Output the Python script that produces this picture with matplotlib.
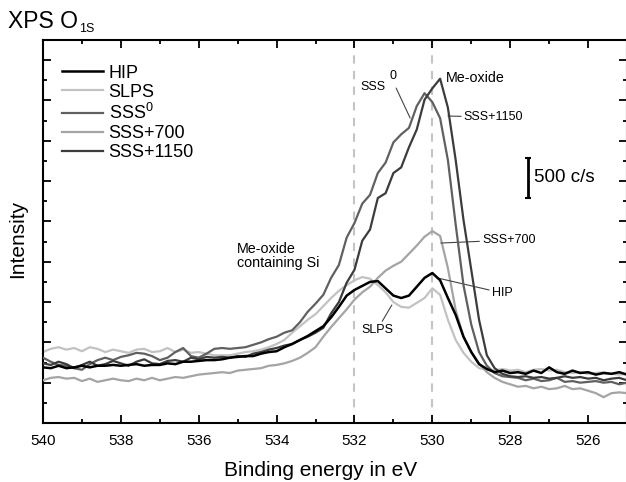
import numpy as np
import matplotlib
matplotlib.use('Agg')
import matplotlib.pyplot as plt
from matplotlib.ticker import MultipleLocator, NullFormatter

plt.rcParams['font.family'] = ['Liberation Sans', 'DejaVu Sans']
plt.rcParams['mathtext.fontset'] = 'custom'
plt.rcParams['mathtext.rm'] = 'Liberation Sans'
plt.rcParams['mathtext.it'] = 'Liberation Sans:italic'
plt.rcParams['mathtext.bf'] = 'Liberation Sans:bold'

# Binding energy grid (eV), 540 -> 525 in 0.2 eV steps
binding_energy = np.linspace(540.0, 525.0, 76)

series_names = ["HIP", "SLPS", "SSS$^{0}$", "SSS+700", "SSS+1150"]

hip = [690, 680, 710, 680, 690, 710, 690, 710, 710, 720,
       710, 720, 730, 710, 720, 720, 740, 730, 760, 760,
       770, 780, 780, 790, 810, 820, 830, 830, 860, 880,
       890, 940, 980, 1030, 1080, 1140, 1200, 1310, 1440, 1580,
       1650, 1700, 1750, 1760, 1670, 1580, 1550, 1580, 1690, 1800,
       1860, 1770, 1550, 1340, 1070, 880, 730, 670, 630, 650,
       620, 630, 610, 650, 620, 690, 630, 610, 650, 620,
       630, 600, 620, 610, 630, 600]

slps = [880, 920, 940, 910, 930, 890, 940, 920, 880, 910,
        890, 870, 910, 920, 880, 890, 930, 880, 910, 870,
        880, 860, 840, 840, 840, 860, 880, 890, 910, 940,
        980, 1030, 1120, 1200, 1280, 1350, 1450, 1550, 1640, 1710,
        1770, 1810, 1790, 1710, 1620, 1500, 1440, 1430, 1490, 1550,
        1670, 1590, 1280, 1030, 870, 760, 680, 660, 650, 670,
        650, 660, 630, 660, 670, 650, 660, 630, 620, 630,
        610, 620, 630, 610, 600, 610]

sss0 = [810, 760, 720, 710, 680, 660, 730, 780, 810, 780,
        820, 840, 870, 860, 830, 780, 810, 880, 930, 830,
        810, 860, 920, 930, 920, 930, 940, 970, 1000, 1040,
        1070, 1120, 1150, 1250, 1380, 1480, 1590, 1800, 1960, 2300,
        2480, 2720, 2830, 3100, 3230, 3480, 3580, 3660, 3930, 4090,
        3980, 3780, 3260, 2460, 1710, 1220, 880, 710, 620, 580,
        570, 560, 530, 550, 520, 530, 560, 510, 520, 500,
        510, 520, 500, 510, 480, 500]

sss700 = [530, 560, 570, 550, 560, 520, 550, 510, 530, 550,
          530, 520, 550, 530, 560, 530, 550, 570, 560, 580,
          600, 610, 620, 630, 620, 650, 660, 670, 680, 710,
          720, 740, 770, 810, 870, 940, 1070, 1190, 1300, 1410,
          1530, 1620, 1690, 1800, 1890, 1950, 2000, 2100, 2200, 2310,
          2380, 2320, 1920, 1400, 1070, 880, 740, 630, 560, 510,
          480, 450, 460, 430, 450, 420, 430, 460, 420, 430,
          400, 370, 320, 370, 380, 370]

sss1150 = [740, 720, 760, 730, 680, 720, 760, 710, 730, 770,
           740, 710, 760, 790, 740, 730, 770, 780, 760, 810,
           790, 820, 810, 820, 810, 830, 820, 860, 880, 910,
           930, 960, 980, 1030, 1070, 1120, 1180, 1360, 1500, 1740,
           1900, 2260, 2400, 2790, 2850, 3100, 3170, 3420, 3640, 4010,
           4150, 4270, 3910, 3260, 2520, 1900, 1280, 840, 680, 610,
           580, 570, 580, 560, 570, 550, 560, 580, 560, 570,
           550, 560, 530, 550, 560, 530]

reference_lines = [532.0, 530.0]
scale_bar_value = 500  # c/s

fig = plt.figure(figsize=(6.26, 4.82), dpi=100)
ax = fig.add_axes([43/626, 1-423/482, 584/626, 383/482])

for xv in reference_lines:
    ax.axvline(xv, color='#c4c4c4', ls=(0, (4, 3.5)), lw=1.5, zorder=1)

colors = ['#000000', '#c2c2c2', '#606060', '#a4a4a4', '#3c3c3c']
data = [hip, slps, sss0, sss700, sss1150]
widths = [1.8, 1.6, 1.6, 1.6, 1.6]
zorders = [6, 2, 4, 3, 5]
handles = []
for name, y, c, lw, z in zip(series_names, data, colors, widths, zorders):
    h, = ax.plot(binding_energy, y, color=c, lw=lw, zorder=z, label=name)
    handles.append(h)

ax.set_xlim(540, 525)
ax.set_ylim(0, 4750)
ax.xaxis.set_major_locator(MultipleLocator(2))
ax.xaxis.set_minor_locator(MultipleLocator(1))
ax.yaxis.set_major_locator(MultipleLocator(500))
ax.yaxis.set_minor_locator(MultipleLocator(250))
ax.yaxis.set_major_formatter(NullFormatter())
ax.tick_params(which='both', direction='in', top=True, right=True, width=1.3)
ax.tick_params(which='major', length=6)
ax.tick_params(which='minor', length=3)
ax.tick_params(axis='x', labelsize=11, pad=8)
ax.tick_params(axis='y', labelleft=False)
for s in ax.spines.values():
    s.set_linewidth(1.5)

leg = ax.legend(handles=handles, loc='upper left', bbox_to_anchor=(0.0325, 0.936),
                frameon=False, fontsize=13, handlelength=2.28, handletextpad=0.3,
                labelspacing=0.12, borderpad=0, borderaxespad=0)

# annotations
arrow = dict(arrowstyle='-', color='#444444', lw=0.8, shrinkA=0, shrinkB=0)
ax.text(529.65, 4278, 'Me-oxide', fontsize=10.3, ha='left', va='center')
ax.annotate('SSS+1150', xy=(529.60, 3807), xytext=(529.19, 3794), fontsize=9,
            ha='left', va='center', arrowprops=arrow)
ax.annotate('SSS+700', xy=(529.78, 2232), xytext=(528.72, 2269), fontsize=9,
            ha='left', va='center', arrowprops=arrow)
ax.annotate('HIP', xy=(529.88, 1800), xytext=(528.47, 1612), fontsize=9,
            ha='left', va='center', arrowprops=arrow)
ax.annotate('SLPS', xy=(531.04, 1463), xytext=(531.42, 1153), fontsize=9,
            ha='center', va='center', arrowprops=arrow)
ax.text(531.86, 4166, 'SSS', fontsize=9, ha='left', va='center')
ax.text(531.11, 4303, '0', fontsize=9, ha='left', va='center')
ax.annotate('', xy=(530.57, 3782), xytext=(530.93, 4154), arrowprops=arrow)
ax.text(535.02, 2071, 'Me-oxide\ncontaining Si', fontsize=10.3, ha='left',
        va='center', linespacing=1.05)

# scale bar
ax.errorbar([527.54], [2790 + scale_bar_value / 2], yerr=[scale_bar_value / 2],
            color='black', lw=2, capsize=2.5, capthick=1.5)
ax.text(527.39, 3050, f'{scale_bar_value} c/s', fontsize=13.5, ha='left', va='center')

# title and axis labels
fig.text(8/626, 1-28/482, 'XPS O', fontsize=16.5, va='baseline', ha='left')
fig.text(79/626, 1-32/482, '1S', fontsize=9, va='baseline', ha='left')
fig.text(18/626, 1-239/482, 'Intensity', rotation=90, fontsize=15, ha='center', va='center')
fig.text(321/626, 1-476/482, 'Binding energy in eV', fontsize=15, ha='center', va='baseline')

fig.savefig('out.png', dpi=100)
